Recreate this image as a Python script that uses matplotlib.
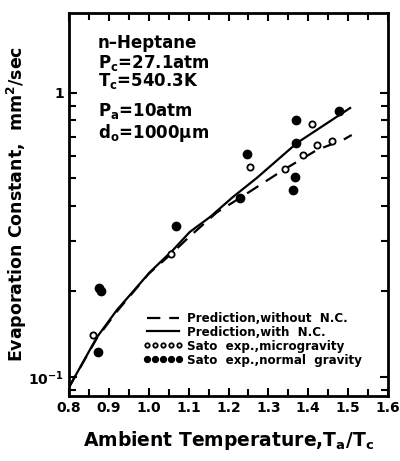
import matplotlib
matplotlib.use("Agg")
import matplotlib.pyplot as plt
from matplotlib.ticker import LogLocator, NullFormatter, FixedLocator, MultipleLocator

plt.rcParams['font.family'] = ['DejaVu Sans']
plt.rcParams['font.weight'] = 'bold'
plt.rcParams['mathtext.default'] = 'bf'

# prediction with natural convection (solid)
t_with = [0.80, 0.87, 0.92, 1.003, 1.061, 1.103, 1.154, 1.211, 1.271, 1.372, 1.505]
k_with = [0.092, 0.138, 0.172, 0.234, 0.280, 0.324, 0.366, 0.430, 0.502, 0.667, 0.885]

# prediction without natural convection (dashed)
t_without = [0.80, 0.87, 0.92, 1.00, 1.06, 1.10, 1.171, 1.229, 1.337, 1.422, 1.487, 1.509]
k_without = [0.092, 0.137, 0.170, 0.231, 0.274, 0.310, 0.380, 0.427, 0.535, 0.630, 0.683, 0.711]

# Sato experiments
t_micro = [0.861, 1.055, 1.254, 1.341, 1.387, 1.409, 1.422, 1.460]
k_micro = [0.141, 0.272, 0.548, 0.540, 0.605, 0.778, 0.656, 0.678]
t_normal = [0.873, 0.876, 0.881, 1.068, 1.229, 1.246, 1.362, 1.367, 1.369, 1.369, 1.477]
k_normal = [0.122, 0.206, 0.201, 0.340, 0.427, 0.610, 0.455, 0.506, 0.667, 0.805, 0.865]

fig = plt.figure(figsize=(4, 4.61), dpi=100)
ax = fig.add_axes([0.1725, 0.141, 0.7975, 0.831])

ax.plot(t_without, k_without, 'k--', lw=1.6, dashes=(6, 4), label='Prediction,without  N.C.')
ax.plot(t_with, k_with, 'k-', lw=1.6, label='Prediction,with  N.C.')
ax.plot(t_micro, k_micro, 'o', mfc='white', mec='black', mew=1.3, ms=4.5,
        label='Sato  exp.,microgravity')
ax.plot(t_normal, k_normal, 'o', color='black', ms=6, label='Sato  exp.,normal  gravity')

ax.set_yscale('log')
ax.set_xlim(0.8, 1.6)
ax.set_ylim(0.0857, 1.913)
ax.xaxis.set_major_locator(MultipleLocator(0.1))
ax.xaxis.set_minor_locator(MultipleLocator(0.05))
ax.xaxis.set_major_formatter(plt.FuncFormatter(lambda v, p: f'{v:.1f}'))
ax.yaxis.set_major_locator(FixedLocator([0.1, 1]))
ax.yaxis.set_major_formatter(plt.FuncFormatter(lambda v, p: '1' if v == 1 else r'$10^{-1}$'))
ax.yaxis.set_minor_locator(LogLocator(base=10, subs=range(2, 10)))
ax.yaxis.set_minor_formatter(NullFormatter())

ax.tick_params(which='both', direction='in', top=True, right=True, width=1.5, labelsize=10)
ax.tick_params(which='major', length=6)
ax.tick_params(which='minor', length=5)
for s in ax.spines.values():
    s.set_linewidth(2)

ax.set_xlabel('Ambient Temperature,T$_a$/T$_c$', fontsize=13.5, fontweight='bold', labelpad=10)
ax.set_ylabel('Evaporation Constant,  mm$^2$/sec', fontsize=12.5, fontweight='bold')
ax.yaxis.set_label_coords(-0.125, 0.5)

ax.text(0.09, 0.945, 'n\u2013Heptane', transform=ax.transAxes, fontsize=12, va='top')
ax.text(0.09, 0.895, 'P$_c$=27.1atm', transform=ax.transAxes, fontsize=12, va='top')
ax.text(0.09, 0.848, 'T$_c$=540.3K', transform=ax.transAxes, fontsize=12, va='top')
ax.text(0.09, 0.77, 'P$_a$=10atm', transform=ax.transAxes, fontsize=12, va='top')
ax.text(0.09, 0.715, 'd$_o$=1000\u03bcm', transform=ax.transAxes, fontsize=12, va='top')

leg = ax.legend(loc='lower right', bbox_to_anchor=(0.945, 0.055), frameon=False, fontsize=8.6,
                numpoints=5, handlelength=3.3, handletextpad=0.4, labelspacing=0.08,
                borderpad=0.2, markerscale=0.7)

fig.savefig('out.png', dpi=100)
